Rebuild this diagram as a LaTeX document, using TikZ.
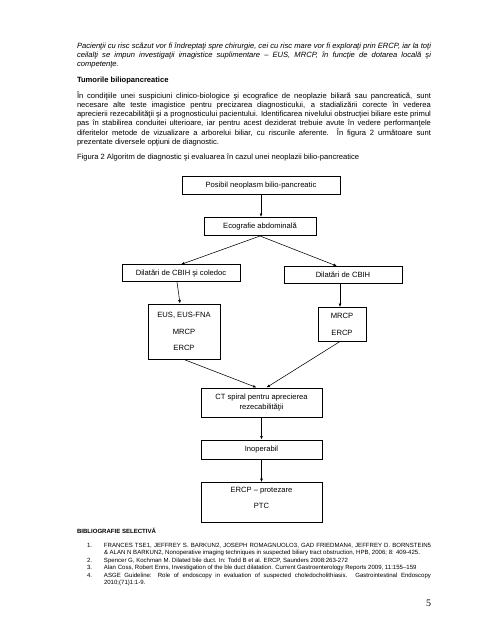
\documentclass[tikz,border=0pt]{standalone}
\usepackage{fontspec}
\setmainfont{Liberation Sans}
\newfontfamily\pnfont{Liberation Serif}
\usetikzlibrary{arrows.meta}
\newcommand\jline[1]{\hbox to 354pt{\strut #1}}
\newcommand\lastline[1]{\hbox to 354pt{\strut #1\hfil}}
\newcommand\refline[3]{\hbox to 344pt{\strut\hbox to 17pt{#1\hfil}\hbox to 327pt{#2#3}}}
\begin{document}
\begin{tikzpicture}[x=1pt,y=-1pt,
  box/.style={draw=black, line width=1pt, inner sep=0pt, align=center,
    font=\fontsize{7.6}{9}\selectfont},
  arr/.style={line width=0.55pt, -{Latex[length=3.5pt,width=2.8pt]}},
  txt/.style={inner sep=0pt, outer sep=0pt, anchor=base west},
  body/.style={txt, font=\fontsize{7.6}{8.8}\selectfont},
  small/.style={txt, font=\fontsize{6.05}{7.5}\selectfont}
]
\useasboundingbox (0,0) rectangle (495,640);
\fill[white] (0,0) rectangle (495,640);

% ---- text above the figure
\node[body, font=\fontsize{7.6}{8.8}\selectfont\itshape] (intro) at (77,48.7) {\vtop{%
\jline{Pacienţii cu risc scăzut vor fi îndreptaţi spre chirurgie, cei cu risc mare vor fi exploraţi prin ERCP, iar la toţi}
\jline{ceilalţi se impun investigaţii imagistice suplimentare – EUS, MRCP, în funcţie de dotarea locală şi}
\lastline{competenţe.}}};

\node[body, font=\fontsize{7.6}{8.8}\selectfont\bfseries] (head) at (77,82.2) {Tumorile biliopancreatice};

\node[body] (para) at (77,98.7) {\vtop{%
\jline{În condiţiile unei suspiciuni clinico-biologice şi ecografice de neoplazie biliară sau pancreatică, sunt}
\jline{necesare alte teste imagistice pentru precizarea diagnosticului, a stadializării corecte în vederea}
\jline{aprecierii rezecabilităţii şi a prognosticului pacientului. Identificarea nivelului obstrucţiei biliare este primul}
\jline{pas în stabilirea conduitei ulterioare, iar pentru acest deziderat trebuie avute în vedere performanţele}
\jline{diferitelor metode de vizualizare a arborelui biliar, cu riscurile aferente. În figura 2 următoare sunt}
\lastline{prezentate diversele opţiuni de diagnostic.}}};

\node[body] (caption) at (77,159.2) {Figura 2 Algoritm de diagnostic şi evaluarea în cazul unei neoplazii bilio-pancreatice};

% ---- flowchart
\node[box, minimum width=158pt, minimum height=18pt] (posibil) at (261,185.5) {Posibil neoplasm bilio-pancreatic};
\node[box, minimum width=112pt, minimum height=18pt] (eco) at (260,226.5) {Ecografie abdominală};
\node[box, minimum width=118pt, minimum height=16.5pt] (dilL) at (181,273.2) {Dilatări de CBIH şi coledoc};
\node[box, minimum width=118pt, minimum height=17pt] (dilR) at (343,275.1) {Dilatări de CBIH};
\node[box, minimum width=72pt, minimum height=55pt, font=\fontsize{7.6}{9.4}\selectfont] (eus) at (184,331.5) {EUS, EUS-FNA\\[7pt]MRCP\\[7pt]ERCP};
\node[box, minimum width=48pt, minimum height=33.4pt, font=\fontsize{7.6}{9.4}\selectfont] (mrcp) at (342,324.3) {MRCP\\[7.4pt]ERCP};
\node[box, minimum width=121pt, minimum height=29pt, font=\fontsize{7.6}{9.4}\selectfont] (ct) at (261.5,402.5) {CT spiral pentru aprecierea\\rezecabilităţii};
\node[box, minimum width=121pt, minimum height=19pt] (inop) at (261.5,449.5) {Inoperabil};
\node[box, minimum width=121pt, minimum height=39.4pt, font=\fontsize{7.6}{9.4}\selectfont] (ercp) at (261.5,502.3) {ERCP – protezare\\[7pt]PTC\\[0pt]\rule{0pt}{5pt}};

\draw[arr] (posibil.south) -- (eco.north -| posibil.south);
\draw[arr] (eco.south) -- (dilL.north);
\draw[arr] (eco.south) -- ([xshift=-6pt]dilR.north);
\draw[arr] ([xshift=-4pt]dilL.south) -- ([xshift=-4pt]eus.north);
\draw[arr] ([xshift=-3pt]dilR.south) -- ([xshift=-2pt]mrcp.north);
\draw[arr] (eus.south) -- ([xshift=-5pt]ct.north);
\draw[arr] ([xshift=-2pt]mrcp.south) -- ([xshift=5pt]ct.north);
\draw[arr] (ct.south) -- (inop.north);
\draw[arr] (inop.south) -- (ercp.north);

% ---- bibliography
\node[small, font=\fontsize{6.05}{7.5}\selectfont\bfseries] (bib) at (77,533) {BIBLIOGRAFIE SELECTIVĂ};
\node[small] (refs) at (87,547.2) {\vtop{%
\refline{1.}{FRANCES TSE1, JEFFREY S. BARKUN2, JOSEPH ROMAGNUOLO3, GAD FRIEDMAN4, JEFFREY D. BORNSTEIN5}{}
\refline{}{\& ALAN N BARKUN2, Nonoperative imaging techniques in suspected biliary tract obstruction, HPB, 2006; 8: 409-425.}{\hfil}
\refline{2.}{Spencer G, Kochman M. Dilated bile duct. In: Todd B et al. ERCP, Saunders 2008:263-272}{\hfil}
\refline{3.}{Alan Coss, Robert Enns, Investigation of the ble duct dilatation. Current Gastroenterology Reports 2009, 11:155–159}{\hfil}
\refline{4.}{ASGE Guideline: Role of endoscopy in evaluation of suspected choledocholithiasis. Gastrointestinal Endoscopy}{}
\refline{}{2010;(71)1:1-9.}{\hfil}}};

\node[txt, anchor=base east, font=\pnfont\fontsize{10}{12}\selectfont] (pagenum) at (431,606) {5};
\end{tikzpicture}
\end{document}
